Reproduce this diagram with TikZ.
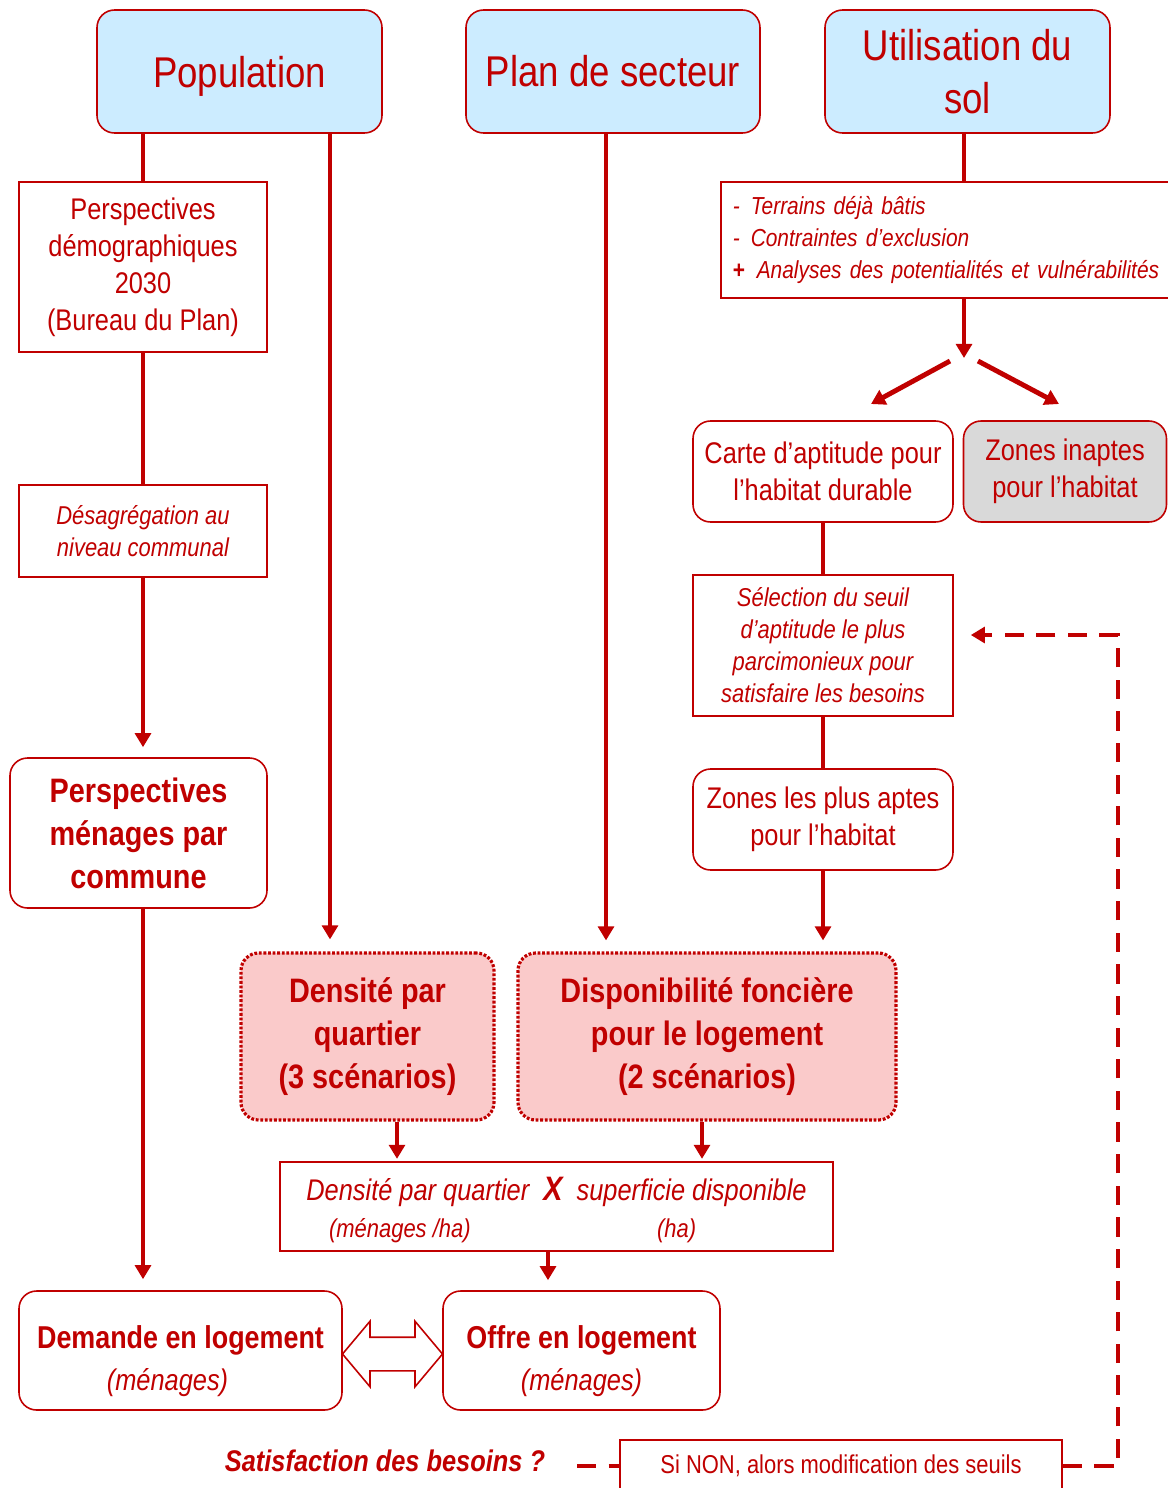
\documentclass[tikz,border=0pt]{standalone}
\usepackage{fontspec}
\setmainfont{Liberation Sans}[FakeStretch=0.85]
\usepackage{xcolor}
\usetikzlibrary{arrows.meta}
\usetikzlibrary{shapes.arrows}

\definecolor{ired}{RGB}{192,0,0}
\definecolor{skyfill}{RGB}{204,236,255}
\definecolor{rosefill}{RGB}{250,202,202}
\definecolor{greyfill}{RGB}{217,217,217}

\newdimen\pxu \pxu=0.02cm

\newcommand{\fhead}{\fontsize{24.5}{30}\selectfont}
\newcommand{\fmid}{\fontsize{17}{21}\selectfont}
\newcommand{\fsmall}{\fontsize{14.7}{18.2}\selectfont}
\newcommand{\flist}{\fontsize{14}{18.2}\selectfont}
\newcommand{\fbold}{\fontsize{19.3}{24.5}\selectfont\bfseries}
\newcommand{\fboldlow}{\fontsize{18}{24}\selectfont\bfseries}

\tikzset{
  sqbox/.style={draw=ired, line width=0.9pt, fill=white, text=ired, align=center, inner sep=0pt},
  rndbox/.style={sqbox, rounded corners=10pt},
  headbox/.style={rndbox, fill=skyfill, font=\fhead},
  scenbox/.style={rndbox, fill=rosefill, line width=1.8pt, dash pattern=on 1.6pt off 1pt, font=\fbold},
  link/.style={ired, line width=2.8pt},
  arr/.style={link, -{Triangle[width=9pt,length=8pt]}},
  loopback/.style={ired, line width=2.6pt, dash pattern=on 11pt off 7pt},
}

\begin{document}
\begin{tikzpicture}[x=0.02cm, y=-0.02cm]
\useasboundingbox (0,0) rectangle (1167,1488);

% heads
{
\node[headbox, text depth=0pt, minimum width=285\pxu, minimum height=123\pxu] (pop) at (239.5,71.5) {Population};
\node[headbox, minimum width=294\pxu, minimum height=123\pxu] (plan) at (613,71.5) {Plan de secteur};
\node[headbox, minimum width=285\pxu, minimum height=123\pxu] (util) at (967.5,71.5) {Utilisation du\\sol};
}

% population column
{
\node[sqbox, font=\fmid, minimum width=248\pxu, minimum height=170\pxu] (demo) at (143,267)
{Perspectives\\démographiques\\2030\\(Bureau du Plan)};
\node[sqbox, font=\fsmall\itshape, minimum width=248\pxu, minimum height=92\pxu] (desag) at (143,531)
{Désagrégation au\\niveau communal};
\node[rndbox, font=\fbold, minimum width=257\pxu, minimum height=150\pxu] (menc) at (138.5,833)
{Perspectives\\ménages par\\commune};
}

% soil column
{
\node[sqbox, font=\flist\itshape, minimum width=474\pxu, minimum height=116\pxu, align=left,
  text width=450\pxu, inner xsep=12\pxu, anchor=west] (excl) at (720,240)
{\makebox[18\pxu][l]{-}Terrains déjà bâtis\\
 \makebox[18\pxu][l]{-}Contraintes d’exclusion\\
 \makebox[24\pxu][l]{\upshape\bfseries +}Analyses des potentialités et vulnérabilités};

\node[rndbox, font=\fmid, minimum width=260\pxu, minimum height=101\pxu] (carte) at (823,471.5)
{Carte d’aptitude pour\\l’habitat durable};
\node[rndbox, fill=greyfill, font=\fmid, minimum width=203\pxu, minimum height=101\pxu] (inapt) at (1065,471.5)
{Zones inaptes\\pour l’habitat};
\node[sqbox, font=\fsmall\itshape, minimum width=260\pxu, minimum height=141\pxu] (selec) at (823,645.5)
{Sélection du seuil\\d’aptitude le plus\\parcimonieux pour\\satisfaire les besoins};
\node[rndbox, font=\fmid, minimum width=260\pxu, minimum height=101\pxu] (aptes) at (823,819.5)
{Zones les plus aptes\\pour l’habitat};
}

% scenarios
{
\node[scenbox, minimum width=253\pxu, minimum height=167\pxu] (dens) at (367.5,1036.5)
{Densité par\\quartier\\(3 scénarios)};
\node[scenbox, minimum width=378\pxu, minimum height=167\pxu] (dispo) at (707,1036.5)
{Disponibilité foncière\\pour le logement\\(2 scénarios)};

\node[sqbox, line width=1.3pt, font=\fmid\itshape, minimum width=553\pxu, minimum height=89\pxu] (formula) at (556.5,1206.5)
{\begin{tabular}{@{}c@{\hspace{14\pxu}}c@{\hspace{14\pxu}}c@{}}
\rule{0pt}{20.4pt}Densité par quartier & {\fbold\itshape X} & superficie disponible\\
{\fsmall (ménages /ha)\hspace*{36\pxu}} & & {\fsmall (ha)\hspace*{30\pxu}}
\end{tabular}};
}

% demand and offer
{
\node[rndbox, font=\fboldlow, minimum width=323\pxu, minimum height=119\pxu] (dem) at (180.5,1350.5)
{\rule{0pt}{25.6pt}Demande en logement\\{\fmid\mdseries\itshape (ménages)\hspace*{26\pxu}}};
\node[rndbox, font=\fboldlow, minimum width=277\pxu, minimum height=119\pxu] (offre) at (581.5,1350.5)
{\rule{0pt}{25.6pt}Offre en logement\\{\fmid\mdseries\itshape (ménages)}};
\node[double arrow, draw=ired, fill=white, line width=0.9pt, inner xsep=0pt, inner ysep=16\pxu,
  minimum height=100\pxu, double arrow head extend=16\pxu,
  double arrow tip angle=100] (swap) at (392.5,1354) {};

\node[text=ired, font=\fontsize{17}{20}\selectfont\bfseries\itshape] (satisf) at (385,1461)
{Satisfaction des besoins ?};
\node[sqbox, font=\fsmall, minimum width=442\pxu, minimum height=52\pxu] (sinon) at (841,1466)
{Si NON, alors modification des seuils};
}

% coordinates
{
\coordinate (split) at (964,358);
\coordinate (forkL) at (950,361);
\coordinate (toCarte) at (871,404);
\coordinate (forkR) at (978,361);
\coordinate (toInapt) at (1059,404);
\coordinate (popFoot) at ([xshift=90.5\pxu]pop.south);
\coordinate (planFoot) at ([xshift=-7\pxu]plan.south);
\coordinate (densFoot) at ([xshift=29.5\pxu]dens.south);
\coordinate (dispoFoot) at ([xshift=-5\pxu]dispo.south);
\coordinate (formFoot) at ([xshift=-8.5\pxu]formula.south);
\coordinate (askEnd) at (577,1466);
\coordinate (loopTop) at (1118,635);
}

% lines
{
\draw[link] (pop.south -| demo.north) -- (demo.north);
\draw[link] (demo.south) -- (desag.north);
\draw[arr, shorten >=10\pxu] (desag.south) -- (menc.north -| desag.south);
\draw[arr, shorten >=11\pxu] (menc.south -| desag.south) -- (dem.north -| desag.south);

\draw[arr, shorten >=12\pxu] (popFoot) -- (popFoot |- dens.north);
\draw[arr, shorten >=11\pxu] (planFoot) -- (planFoot |- dispo.north);

\draw[link] (split |- util.south) -- (split |- excl.north);
\draw[arr] (split |- excl.south) -- (split);
\draw[arr] (forkL) -- (toCarte);
\draw[arr] (forkR) -- (toInapt);

\draw[link] (carte.south) -- (selec.north);
\draw[link] (selec.south) -- (aptes.north);
\draw[arr, shorten >=11\pxu] (aptes.south) -- (aptes.south |- dispo.north);

\draw[arr, shorten >=2\pxu] (densFoot) -- (densFoot |- formula.north);
\draw[arr, shorten >=2\pxu] (dispoFoot) -- (dispoFoot |- formula.north);
\draw[arr, shorten >=10\pxu] (formFoot) -- (formFoot |- offre.north);

\draw[loopback] (askEnd) -- (sinon.west);
\draw[loopback, -{Triangle[width=9pt,length=8pt]}, shorten >=17\pxu] (sinon.east) -| (loopTop) -- (loopTop -| selec.east);
}

\end{tikzpicture}
\end{document}
